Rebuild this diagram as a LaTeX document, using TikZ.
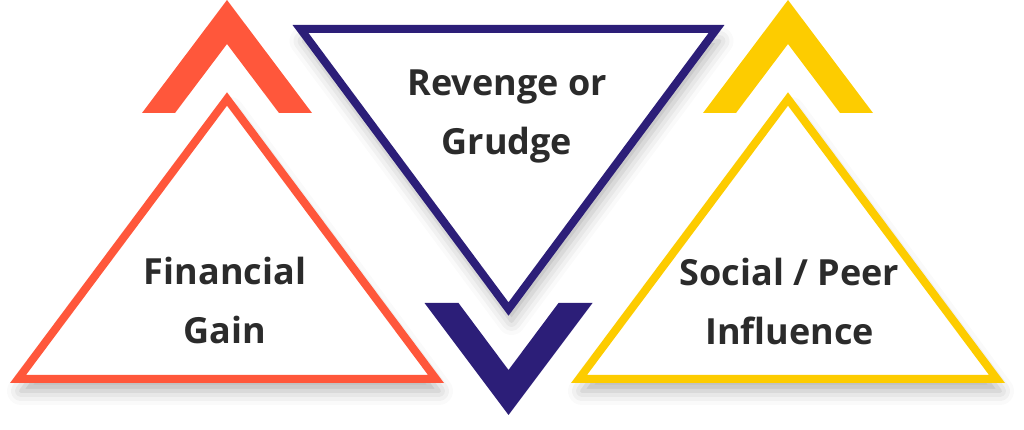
\documentclass[tikz,border=0pt]{standalone}
\usepackage{fontspec}
\setmainfont{Open Sans}
\usepackage{xcolor}
\usetikzlibrary{shadows.blur}

\definecolor{gainred}{HTML}{FF573B}
\definecolor{grudgenavy}{HTML}{2C1E78}
\definecolor{peeryellow}{HTML}{FDCC00}
\definecolor{textgray}{HTML}{2B2B2B}

\begin{document}
\begin{tikzpicture}[x=1pt, y=1pt,
    frame/.style={line width=8pt, line join=miter, fill=white,
      blur shadow={shadow xshift=3pt, shadow yshift=-12pt, shadow blur radius=14pt, shadow opacity=30}},
    chevron/.style={draw=none},
    motive/.style={font=\fontsize{36}{59}\selectfont\bfseries, text=textgray, align=center}
  ]
  \useasboundingbox (0,0) rectangle (1024,430);

  % --- LEFT: FINANCIAL GAIN ---
  \begin{scope}[shift={(227,0)}]
    \draw[frame, draw=gainred] (0,331) -- (209,51) -- (-209,51) -- cycle;
    \fill[chevron, gainred] (-85,317) -- (0,430) -- (85,317) -- (52,317) -- (0,386) -- (-52,317) -- cycle;
  \end{scope}
  \node[motive] (gain) at (225,129) {Financial\\Gain};

  % --- MIDDLE: REVENGE OR GRUDGE ---
  \begin{scope}[shift={(508.5,0)}]
    \draw[frame, draw=grudgenavy] (-208,401) -- (208,401) -- (0,121) -- cycle;
    \fill[chevron, grudgenavy] (-84,127) -- (0,15) -- (84,127) -- (50,127) -- (0,60) -- (-50,127) -- cycle;
  \end{scope}
  \node[motive] (grudge) at (507,314) {Revenge or\\Grudge};

  % --- RIGHT: SOCIAL / PEER INFLUENCE ---
  \begin{scope}[shift={(788,0)}]
    \draw[frame, draw=peeryellow] (0,331) -- (209,51) -- (-209,51) -- cycle;
    \fill[chevron, peeryellow] (-85,317) -- (0,430) -- (85,317) -- (52,317) -- (0,386) -- (-52,317) -- cycle;
  \end{scope}
  \node[motive] (peer) at (789.5,128) {Social / Peer\\Influence};
\end{tikzpicture}
\end{document}
